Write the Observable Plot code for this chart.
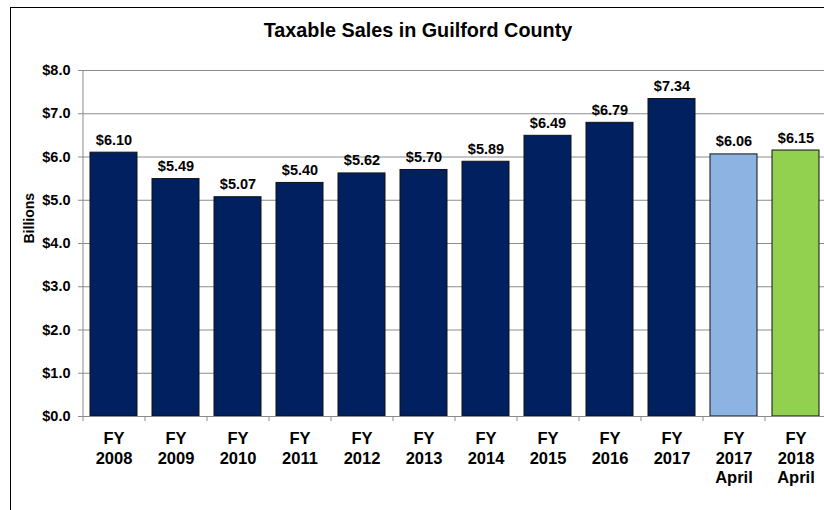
<!DOCTYPE html>
<html>
<head>
<meta charset="utf-8">
<script src="https://cdn.jsdelivr.net/npm/d3@7"></script>
<script src="https://cdn.jsdelivr.net/npm/@observablehq/plot@0.6"></script>
<style>
  html, body { margin: 0; padding: 0; background: #fff; }
  #wrap { position: relative; width: 824px; height: 510px; overflow: hidden; font-family: "Liberation Sans", Arial, sans-serif; }
  #border { position: absolute; left: 10px; top: 7px; width: 900px; height: 600px; border: 1.5px solid #000; box-sizing: border-box; pointer-events: none; }
  #title { position: absolute; left: 10px; width: 816px; top: 19px; text-align: center; font-weight: bold; font-size: 19.8px; color: #000; }
  svg { position: absolute; left: 0; top: 0; }
</style>
</head>
<body>
<div id="wrap">
  <div id="title">Taxable Sales in Guilford County</div>
  <div id="chart"></div>
  <div id="border"></div>
</div>
<script>
const categories = ["FY\n2008", "FY\n2009", "FY\n2010", "FY\n2011", "FY\n2012", "FY\n2013", "FY\n2014", "FY\n2015", "FY\n2016", "FY\n2017", "FY\n2017\nApril", "FY\n2018\nApril"];
const values = [6.10, 5.49, 5.07, 5.40, 5.62, 5.70, 5.89, 6.49, 6.79, 7.34, 6.06, 6.15];
const groups = ["Annual", "Annual", "Annual", "Annual", "Annual", "Annual", "Annual", "Annual", "Annual", "Annual", "2017 April", "2018 April"];
const yTicks = [0, 1, 2, 3, 4, 5, 6, 7, 8];

const groupDomain = ["Annual", "2017 April", "2018 April"];
const groupColors = ["#002060", "#8DB3E2", "#92D050"];

const data = categories.map((c, i) => ({category: c, value: values[i], group: groups[i]}));

const gray = "#8c8c8c";
const step = 62;

const chart = Plot.plot({
  width: 824,
  height: 510,
  marginLeft: 83,
  marginRight: 0,
  marginTop: 70,
  marginBottom: 94,
  style: {fontFamily: "'Liberation Sans', Arial, sans-serif", background: "transparent", color: "#000", overflow: "visible"},
  x: {domain: categories, range: [83, 827], paddingInner: 0.24, paddingOuter: 0.12, label: null},
  y: {domain: [0, 8], label: null},
  color: {domain: groupDomain, range: groupColors},
  marks: [
    Plot.gridY(yTicks, {stroke: gray, strokeOpacity: 1, strokeWidth: 1}),
    Plot.axisY(yTicks, {
      tickFormat: d => "$" + d.toFixed(1),
      tickSize: 5, tickPadding: 8, stroke: gray,
      fontSize: 14.5, fontWeight: "bold", fill: "#000",
      label: null
    }),
    Plot.text(["Billions"], {
      frameAnchor: "left", rotate: -90, dx: -54,
      fontSize: 14, fontWeight: "bold", fill: "#000"
    }),
    Plot.barY(data, {x: "category", y: "value", fill: "group", stroke: "#111", strokeWidth: 1}),
    Plot.ruleY([0], {stroke: gray, strokeWidth: 1}),
    Plot.ruleX([categories[0]], {dx: -step / 2, y1: 0, y2: 8, stroke: gray, strokeWidth: 1}),
    Plot.axisX({tickSize: 5, dx: -step / 2, text: null, stroke: gray, label: null}),
    Plot.axisX({
      tickSize: 0, tickPadding: 14, fontSize: 16.5, fontWeight: "bold", fill: "#000",
      lineHeight: 1.17, label: null
    }),
    Plot.text(data, {
      x: "category", y: "value", text: d => "$" + d.value.toFixed(2),
      lineAnchor: "bottom", dy: -8, fontSize: 14.5, fontWeight: "bold", fill: "#000"
    })
  ]
});
document.getElementById("chart").appendChild(chart);
</script>
</body>
</html>
